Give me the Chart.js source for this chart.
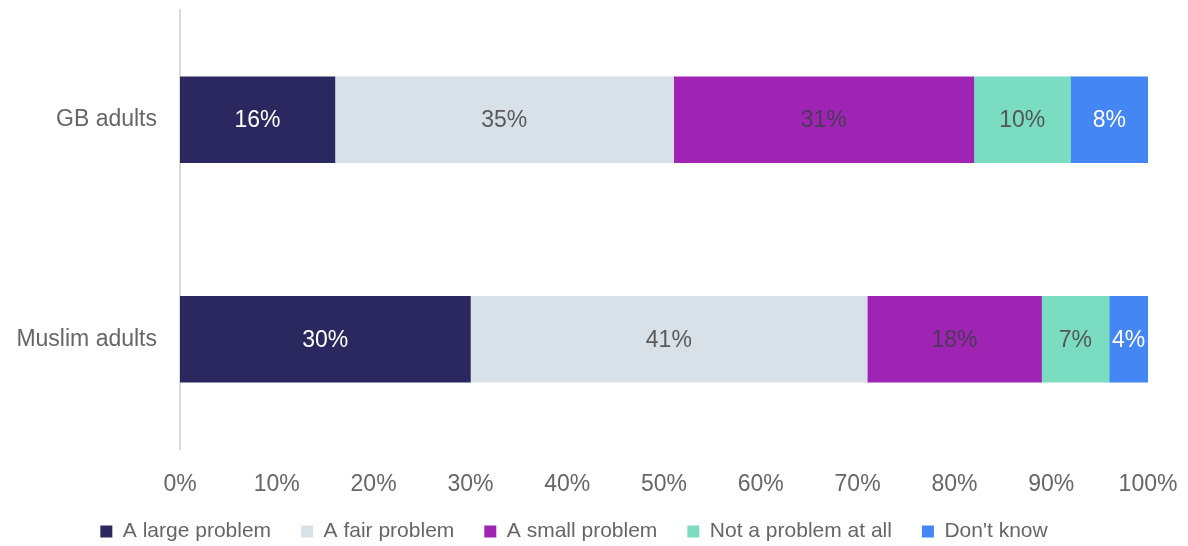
<!DOCTYPE html>
<html>
<head>
<meta charset="utf-8">
<script src="https://cdn.jsdelivr.net/npm/chart.js@4/dist/chart.umd.min.js"></script>
<style>
  html, body { margin: 0; padding: 0; background: #fff; }
  #wrap { width: 1188px; height: 546px; }
</style>
</head>
<body>
<div id="wrap"><canvas id="chart"></canvas></div>
<script>
// survey groups and answer shares (%)
const groups = ['GB adults', 'Muslim adults'];
const answers = ['A large problem', 'A fair problem', 'A small problem', 'Not a problem at all', "Don't know"];
const largeProblem = [16, 30];
const fairProblem = [35, 41];
const smallProblem = [31, 18];
const notProblem = [10, 7];
const dontKnow = [8, 4];
const xTicks = [0, 10, 20, 30, 40, 50, 60, 70, 80, 90, 100];

const colours = ['#2B285F', '#D9E1E8', '#9F24B4', '#7ADCC1', '#4386F4'];
const labelColours = ['#FFFFFF', '#5A5A5A', '#4A3A55', '#555555', '#FFFFFF'];
const series = [largeProblem, fairProblem, smallProblem, notProblem, dontKnow];

const FONT = 'Liberation Sans, Arial, sans-serif';

// writes the value in the middle of each segment
const segmentLabels = {
  id: 'segmentLabels',
  afterDatasetsDraw(chart) {
    const ctx = chart.ctx;
    ctx.save();
    ctx.font = '23px ' + FONT;
    ctx.textAlign = 'center';
    ctx.textBaseline = 'middle';
    chart.data.datasets.forEach((ds, i) => {
      const meta = chart.getDatasetMeta(i);
      meta.data.forEach((bar, j) => {
        const cx = (bar.x + bar.base) / 2;
        ctx.fillStyle = labelColours[i];
        ctx.fillText(ds.data[j] + '%', cx, bar.y + 1);
      });
    });
    ctx.restore();
  }
};

new Chart(document.getElementById('chart'), {
  type: 'bar',
  data: {
    labels: groups,
    datasets: answers.map((name, i) => ({
      label: name,
      data: series[i],
      backgroundColor: colours[i],
      borderWidth: 0,
      barThickness: 86
    }))
  },
  options: {
    indexAxis: 'y',
    responsive: true,
    maintainAspectRatio: false,
    animation: false,
    layout: { padding: { top: 10, right: 40, left: 0, bottom: -6 } },
    scales: {
      x: {
        stacked: true,
        min: 0,
        max: 100,
        afterBuildTicks(scale) { scale.ticks = xTicks.map(v => ({ value: v })); },
        afterFit(scale) {
          scale.height = 42;
          scale.paddingLeft = 0;
          scale.paddingRight = 0;
        },
        grid: { display: false, drawTicks: false },
        border: { display: false },
        ticks: {
          padding: 22,
          color: '#666666',
          font: { family: FONT, size: 23 },
          callback: v => v + '%'
        }
      },
      y: {
        stacked: true,
        afterFit(scale) {
          scale.width = 180;
          scale.paddingTop = 0;
          scale.paddingBottom = 0;
        },
        grid: { display: false, drawTicks: false },
        border: { display: true, color: '#D9D9D9', width: 2 },
        ticks: {
          padding: 23,
          color: '#666666',
          font: { family: FONT, size: 23 }
        }
      }
    },
    plugins: {
      legend: {
        position: 'bottom',
        labels: {
          boxWidth: 12,
          boxHeight: 12,
          padding: 30,
          color: '#666666',
          font: { family: FONT, size: 21 }
        }
      },
      tooltip: { enabled: false }
    }
  },
  plugins: [segmentLabels]
});
</script>
</body>
</html>
